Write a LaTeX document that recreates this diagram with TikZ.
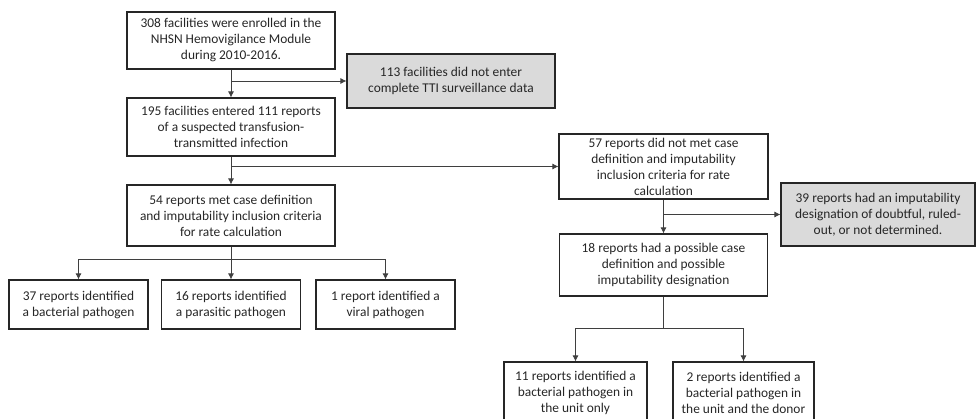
\documentclass[tikz,border=0pt]{standalone}
\usepackage{fontspec}
\setmainfont{Carlito}
\usetikzlibrary{arrows.meta}
\definecolor{boxline}{HTML}{262626}
\definecolor{boxgrey}{HTML}{DADADA}
\definecolor{lineclr}{HTML}{3F3F3F}

\begin{document}
\begin{tikzpicture}[x=1pt, y=-1pt,
    box/.style={draw=boxline, line width=1.1pt, align=center, inner sep=0pt, text=boxline,
      font=\fontsize{13.4}{16}\selectfont},
    grey/.style={box, fill=boxgrey},
    arr/.style={draw=lineclr, line width=0.8pt, -{Latex[length=6pt,width=6pt]}},
    ln/.style={draw=lineclr, line width=0.8pt}]
    \clip (0,0) rectangle (976,419);
    \node[box, minimum width=208, minimum height=57] (enrol) at (231,40.5)
      {308 facilities were enrolled in the\\NHSN Hemovigilance Module\\during 2010-2016.};
    \node[grey, minimum width=208, minimum height=54] (noenter) at (451,81)
      {113 facilities did not enter\\complete TTI surveillance data};
    \node[box, minimum width=208, minimum height=58] (entered) at (231,127)
      {195 facilities entered 111 reports\\of a suspected transfusion-\\transmitted infection};
    \node[box, minimum width=208, minimum height=61] (met) at (231,215.5)
      {54 reports met case definition\\and imputability inclusion criteria\\for rate calculation};
    \node[box, minimum width=209, minimum height=65] (notmet) at (663.5,166.5)
      {57 reports did not met case\\definition and imputability\\inclusion criteria for rate\\calculation};
    \node[grey, minimum width=194, minimum height=63] (doubt) at (878,214.5)
      {39 reports had an imputability\\designation of doubtful, ruled-\\out, or not determined.};
    \node[box, minimum width=208, minimum height=62] (possible) at (663.5,265)
      {18 reports had a possible case\\definition and possible\\imputability designation};
    \node[box, minimum width=139, minimum height=49] (bact) at (78.5,304.5)
      {37 reports identified\\a bacterial pathogen};
    \node[box, minimum width=139, minimum height=49] (para) at (231,304.5)
      {16 reports identified\\a parasitic pathogen};
    \node[box, minimum width=139, minimum height=49] (viral) at (385.5,304.5)
      {1 report identified a\\viral pathogen};
    \node[box, minimum width=143, minimum height=62] (unit) at (575.5,393)
      {11 reports identified a\\bacterial pathogen in\\the unit only};
    \node[box, minimum width=141, minimum height=62] (donor) at (743.5,393)
      {2 reports identified a\\bacterial pathogen in\\the unit and the donor};

    \coordinate (j1) at (enrol.south |- noenter.west);
    \coordinate (j2) at (entered.south |- notmet.west);
    \coordinate (j3) at (notmet.south |- doubt.west);
    \coordinate (e1) at (231,259);
    \coordinate (d1) at (663.5,328);

    \draw[arr] (enrol) -- (entered);
    \draw[arr] (j1) -- (noenter);
    \draw[arr] (entered) -- (met);
    \draw[arr] (j2) -- (notmet);
    \draw[arr] (notmet) -- (possible);
    \draw[arr] (j3) -- (doubt);
    \draw[ln] (met) -- (e1);
    \draw[arr] (e1) -| (bact);
    \draw[arr] (e1) -- (para);
    \draw[arr] (e1) -| (viral);
    \draw[ln] (possible) -- (d1);
    \draw[arr] (d1) -| (unit);
    \draw[arr] (d1) -| (donor);
\end{tikzpicture}
\end{document}
